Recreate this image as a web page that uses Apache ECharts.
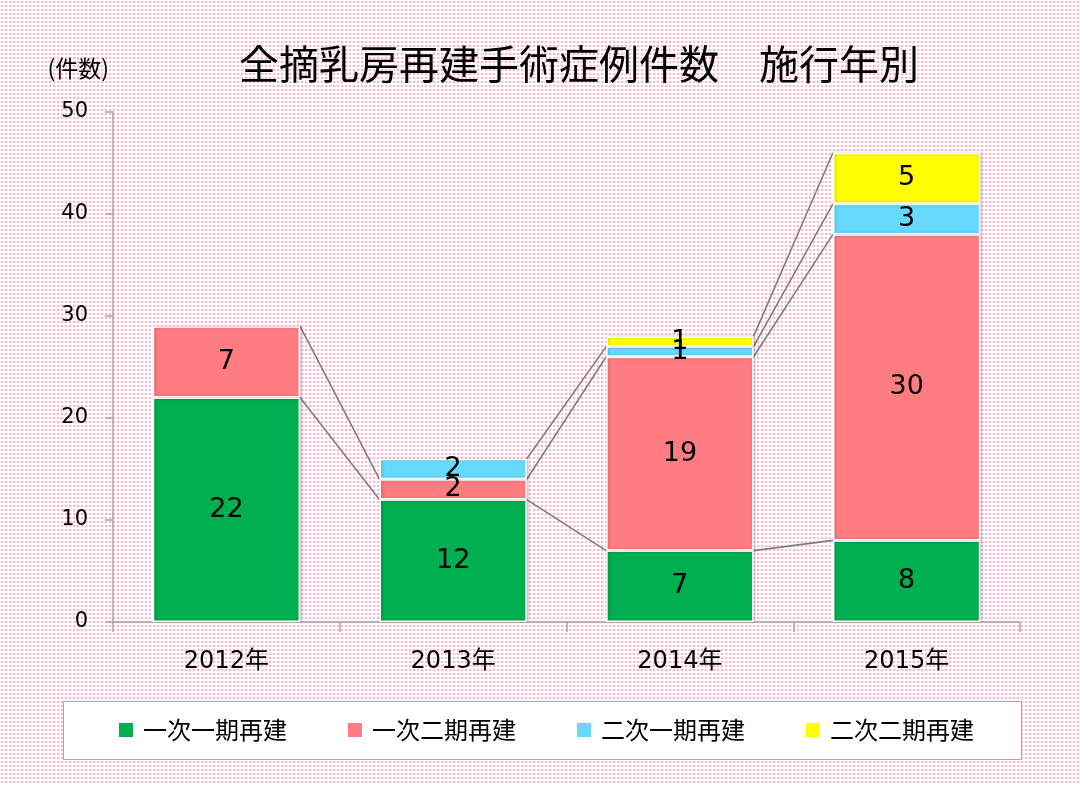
<!DOCTYPE html>
<html>
<head>
<meta charset="utf-8">
<script src="https://cdn.jsdelivr.net/npm/echarts@6/dist/echarts.min.js"></script>
<style>
html,body{margin:0;padding:0;}
#chart{width:1080px;height:785px;}
</style>
</head>
<body>
<div id="chart"></div>
<script>
// ---- data ----
var categories = ['2012年', '2013年', '2014年', '2015年'];
var seriesNames = ['一次一期再建', '一次二期再建', '二次一期再建', '二次二期再建'];
var primaryOneStage = [22, 12, 7, 8];
var primaryTwoStage = [7, 2, 19, 30];
var secondaryOneStage = [null, 2, 1, 3];
var secondaryTwoStage = [null, null, 1, 5];
var yTicks = [0, 10, 20, 30, 40, 50];
var colors = ['#00b050', '#ff7c80', '#66d9ff', '#ffff00'];

// background pattern
var pc = document.createElement('canvas');
pc.width = 4; pc.height = 4;
var pctx = pc.getContext('2d');
pctx.fillStyle = '#fffafc'; pctx.fillRect(0, 0, 4, 4);
pctx.fillStyle = '#ffb4d2'; pctx.fillRect(1, 1, 2, 2);
document.getElementById('chart').style.background = 'url(' + pc.toDataURL() + ') repeat';

var allSeries = [primaryOneStage, primaryTwoStage, secondaryOneStage, secondaryTwoStage];
// cumulative tops for series lines
var cumulative = allSeries.map(function (arr, s) {
  return arr.map(function (v, i) {
    if (v === null) return null;
    var sum = 0;
    for (var k = 0; k <= s; k++) sum += (allSeries[k][i] || 0);
    return sum;
  });
});

var BAR_RATIO = 0.65;
var cjk = '"Noto Sans CJK JP", "Noto Sans", sans-serif';
var num = '"DejaVu Sans", "Noto Sans CJK JP", sans-serif';

var chart = echarts.init(document.getElementById('chart'), null, {renderer: 'canvas'});

var barSeries = allSeries.map(function (arr, s) {
  return {
    name: seriesNames[s],
    type: 'bar',
    stack: 'total',
    barWidth: (BAR_RATIO * 100) + '%',
    data: arr,
    itemStyle: {
      color: colors[s],
      borderColor: '#ffffff',
      borderWidth: 1.5,
      shadowColor: 'rgba(0,0,0,0.22)',
      shadowBlur: 3,
      shadowOffsetX: 1.5,
      shadowOffsetY: 0
    },
    label: {
      show: true,
      position: 'inside',
      color: '#000',
      fontSize: 27,
      fontFamily: num
    },
    z: 3
  };
});

var lineSeries = {
  type: 'custom',
  silent: true,
  z: 2,
  data: categories.slice(0, categories.length - 1).map(function (c, i) { return [i, 0]; }),
  encode: {x: 0, y: 1},
  renderItem: function (params, api) {
    var i = api.value(0);
    var bw = api.size([1, 0])[0] * BAR_RATIO;
    var children = [];
    for (var s = 0; s < cumulative.length; s++) {
      var a = cumulative[s][i], b = cumulative[s][i + 1];
      if (a === null || b === null) continue;
      var p1 = api.coord([i, a]);
      var p2 = api.coord([i + 1, b]);
      children.push({
        type: 'line',
        shape: {x1: p1[0] + bw / 2, y1: p1[1], x2: p2[0] - bw / 2, y2: p2[1]},
        style: {stroke: '#7f7f7f', lineWidth: 1.6}
      });
    }
    return {type: 'group', children: children};
  }
};

var option = {
  animation: false,
  backgroundColor: 'transparent',
  textStyle: {fontFamily: cjk},
  title: {
    text: '全摘乳房再建手術症例件数　施行年別',
    left: 574,
    textAlign: 'center',
    top: 39,
    textStyle: {fontSize: 40, fontWeight: 'normal', color: '#000', fontFamily: cjk}
  },
  graphic: [{
    type: 'rect',
    shape: {x: 63.5, y: 701.5, width: 958, height: 58},
    style: {fill: '#ffffff', stroke: '#a6a6a6', lineWidth: 1},
    z: 0
  }],
  legend: {
    left: 117,
    top: 718,
    padding: 0,
    itemWidth: 16,
    itemHeight: 16,
    itemGap: 59,
    icon: 'rect',
    data: seriesNames,
    textStyle: {fontSize: 24, color: '#000', fontFamily: cjk, padding: [0, 0, 0, 4]},
    z: 5
  },
  grid: {left: 113, right: 60, top: 112, bottom: 163, containLabel: false},
  xAxis: {
    type: 'category',
    data: categories,
    boundaryGap: true,
    axisLine: {lineStyle: {color: '#a6a6a6', width: 1.5}},
    axisTick: {show: true, length: 10, lineStyle: {color: '#a6a6a6', width: 1.5}},
    axisLabel: {fontSize: 24, color: '#000', margin: 28, fontFamily: num}
  },
  yAxis: {
    type: 'value',
    min: 0,
    max: 50,
    interval: 10,
    name: '(件数)',
    nameLocation: 'end',
    nameGap: 32,
    nameTextStyle: {fontSize: 23, color: '#000', align: 'right', padding: [0, 4, 0, 0], fontFamily: cjk},
    axisLine: {show: true, lineStyle: {color: '#a6a6a6', width: 1.5}},
    axisTick: {show: true, length: 8, lineStyle: {color: '#a6a6a6', width: 1.5}},
    axisLabel: {
      fontSize: 21, color: '#000', margin: 25, fontFamily: num,
      formatter: function (v) { return yTicks.indexOf(v) >= 0 ? String(v) : ''; }
    },
    splitLine: {show: false}
  },
  series: barSeries.concat([lineSeries])
};

chart.setOption(option);
</script>
</body>
</html>
